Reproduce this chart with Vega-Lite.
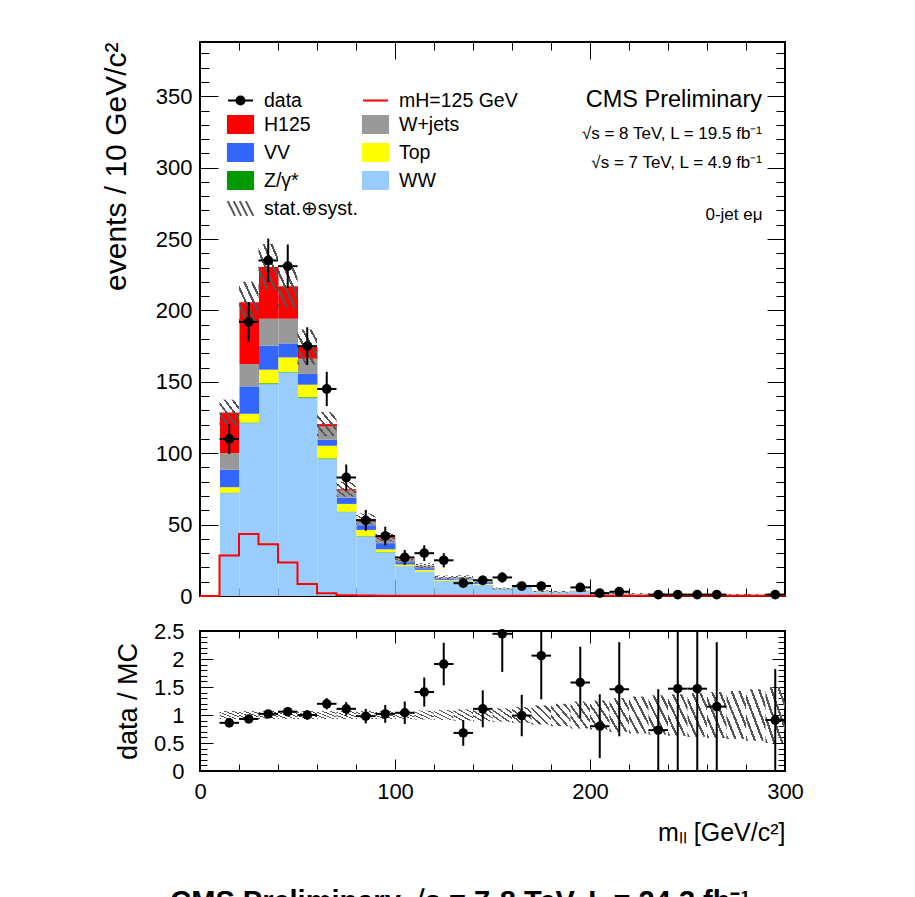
{
  "$schema": "https://vega.github.io/schema/vega-lite/v6.json",
  "padding": {"left": 100, "top": 40, "right": 5, "bottom": 5},
  "background": "white",
  "config": {
    "font": "Liberation Sans",
    "view": {"stroke": "black", "strokeWidth": 2},
    "axis": {"domain": false, "grid": false, "tickColor": "black", "tickWidth": 1, "labelColor": "black", "labelFontSize": 22, "labelFont": "Liberation Sans", "titleFont": "Liberation Sans", "titleFontWeight": "normal", "titleColor": "black", "labelFlush": false, "labelOverlap": false, "labelBound": false, "minExtent": 0}
  },
  "title": {"text": "CMS Preliminary   √s = 7-8 TeV, L = 24.3 fb⁻¹", "orient": "bottom", "anchor": "start", "dx": 70, "offset": 42, "fontSize": 29, "fontWeight": "bold", "font": "Liberation Sans", "color": "black"},
  "spacing": 11,
  "datasets": {
    "stack": [
      {"a":10,"b":20,"c":"WW","v":72.0,"o":1},{"a":10,"b":20,"c":"Z/γ*","v":0.4,"o":2},{"a":10,"b":20,"c":"Top","v":3.8,"o":3},{"a":10,"b":20,"c":"VV","v":12.2,"o":4},{"a":10,"b":20,"c":"W+jets","v":11.6,"o":5},{"a":10,"b":20,"c":"H125","v":28.5,"o":6},
      {"a":20,"b":30,"c":"WW","v":121.1,"o":1},{"a":20,"b":30,"c":"Z/γ*","v":0.4,"o":2},{"a":20,"b":30,"c":"Top","v":6.1,"o":3},{"a":20,"b":30,"c":"VV","v":19.2,"o":4},{"a":20,"b":30,"c":"W+jets","v":15.7,"o":5},{"a":20,"b":30,"c":"H125","v":43.2,"o":6},
      {"a":30,"b":40,"c":"WW","v":148.4,"o":1},{"a":30,"b":40,"c":"Z/γ*","v":0.6,"o":2},{"a":30,"b":40,"c":"Top","v":9.5,"o":3},{"a":30,"b":40,"c":"VV","v":16.8,"o":4},{"a":30,"b":40,"c":"W+jets","v":18.9,"o":5},{"a":30,"b":40,"c":"H125","v":36.3,"o":6},
      {"a":40,"b":50,"c":"WW","v":156.6,"o":1},{"a":40,"b":50,"c":"Z/γ*","v":0.5,"o":2},{"a":40,"b":50,"c":"Top","v":10.0,"o":3},{"a":40,"b":50,"c":"VV","v":9.8,"o":4},{"a":40,"b":50,"c":"W+jets","v":17.3,"o":5},{"a":40,"b":50,"c":"H125","v":22.7,"o":6},
      {"a":50,"b":60,"c":"WW","v":138.6,"o":1},{"a":50,"b":60,"c":"Z/γ*","v":0.6,"o":2},{"a":50,"b":60,"c":"Top","v":8.8,"o":3},{"a":50,"b":60,"c":"VV","v":7.5,"o":4},{"a":50,"b":60,"c":"W+jets","v":10.7,"o":5},{"a":50,"b":60,"c":"H125","v":8.2,"o":6},
      {"a":60,"b":70,"c":"WW","v":95.9,"o":1},{"a":60,"b":70,"c":"Z/γ*","v":0.5,"o":2},{"a":60,"b":70,"c":"Top","v":8.8,"o":3},{"a":60,"b":70,"c":"VV","v":4.2,"o":4},{"a":60,"b":70,"c":"W+jets","v":9.3,"o":5},{"a":60,"b":70,"c":"H125","v":1.7,"o":6},
      {"a":70,"b":80,"c":"WW","v":58.7,"o":1},{"a":70,"b":80,"c":"Z/γ*","v":0.4,"o":2},{"a":70,"b":80,"c":"Top","v":5.4,"o":3},{"a":70,"b":80,"c":"VV","v":4.4,"o":4},{"a":70,"b":80,"c":"W+jets","v":5.0,"o":5},{"a":70,"b":80,"c":"H125","v":0.9,"o":6},
      {"a":80,"b":90,"c":"WW","v":41.6,"o":1},{"a":80,"b":90,"c":"Z/γ*","v":0.3,"o":2},{"a":80,"b":90,"c":"Top","v":4.4,"o":3},{"a":80,"b":90,"c":"VV","v":3.3,"o":4},{"a":80,"b":90,"c":"W+jets","v":3.2,"o":5},{"a":80,"b":90,"c":"H125","v":1.2,"o":6},
      {"a":90,"b":100,"c":"WW","v":30.4,"o":1},{"a":90,"b":100,"c":"Z/γ*","v":0.3,"o":2},{"a":90,"b":100,"c":"Top","v":2.0,"o":3},{"a":90,"b":100,"c":"VV","v":4.3,"o":4},{"a":90,"b":100,"c":"W+jets","v":3.4,"o":5},{"a":90,"b":100,"c":"H125","v":0.8,"o":6},
      {"a":100,"b":110,"c":"WW","v":20.8,"o":1},{"a":100,"b":110,"c":"Z/γ*","v":0.1,"o":2},{"a":100,"b":110,"c":"Top","v":1.2,"o":3},{"a":100,"b":110,"c":"VV","v":1.6,"o":4},{"a":100,"b":110,"c":"W+jets","v":2.1,"o":5},{"a":100,"b":110,"c":"H125","v":0.2,"o":6},
      {"a":110,"b":120,"c":"WW","v":17.0,"o":1},{"a":110,"b":120,"c":"Z/γ*","v":0.1,"o":2},{"a":110,"b":120,"c":"Top","v":1.2,"o":3},{"a":110,"b":120,"c":"VV","v":1.2,"o":4},{"a":110,"b":120,"c":"W+jets","v":1.7,"o":5},{"a":110,"b":120,"c":"H125","v":0.1,"o":6},
      {"a":120,"b":130,"c":"WW","v":10.6,"o":1},{"a":120,"b":130,"c":"Z/γ*","v":0.1,"o":2},{"a":120,"b":130,"c":"Top","v":0.6,"o":3},{"a":120,"b":130,"c":"VV","v":0.7,"o":4},{"a":120,"b":130,"c":"W+jets","v":1.0,"o":5},{"a":120,"b":130,"c":"H125","v":0.1,"o":6},
      {"a":130,"b":140,"c":"WW","v":10.8,"o":1},{"a":130,"b":140,"c":"Z/γ*","v":0.1,"o":2},{"a":130,"b":140,"c":"Top","v":0.6,"o":3},{"a":130,"b":140,"c":"VV","v":0.7,"o":4},{"a":130,"b":140,"c":"W+jets","v":1.0,"o":5},
      {"a":140,"b":150,"c":"WW","v":8.0,"o":1},{"a":140,"b":150,"c":"Top","v":0.5,"o":3},{"a":140,"b":150,"c":"VV","v":0.6,"o":4},{"a":140,"b":150,"c":"W+jets","v":0.8,"o":5},
      {"a":150,"b":160,"c":"WW","v":4.3,"o":1},{"a":150,"b":160,"c":"Top","v":0.3,"o":3},{"a":150,"b":160,"c":"VV","v":0.3,"o":4},{"a":150,"b":160,"c":"W+jets","v":0.4,"o":5},
      {"a":160,"b":170,"c":"WW","v":5.7,"o":1},{"a":160,"b":170,"c":"Top","v":0.4,"o":3},{"a":160,"b":170,"c":"VV","v":0.4,"o":4},{"a":160,"b":170,"c":"W+jets","v":0.6,"o":5},
      {"a":170,"b":180,"c":"WW","v":2.7,"o":1},{"a":170,"b":180,"c":"Top","v":0.2,"o":3},{"a":170,"b":180,"c":"VV","v":0.2,"o":4},{"a":170,"b":180,"c":"W+jets","v":0.3,"o":5},
      {"a":180,"b":190,"c":"WW","v":2.4,"o":1},{"a":180,"b":190,"c":"Top","v":0.2,"o":3},{"a":180,"b":190,"c":"VV","v":0.2,"o":4},{"a":180,"b":190,"c":"W+jets","v":0.2,"o":5},
      {"a":190,"b":200,"c":"WW","v":3.1,"o":1},{"a":190,"b":200,"c":"Top","v":0.2,"o":3},{"a":190,"b":200,"c":"VV","v":0.2,"o":4},{"a":190,"b":200,"c":"W+jets","v":0.3,"o":5},
      {"a":200,"b":210,"c":"WW","v":2.0,"o":1},{"a":200,"b":210,"c":"Top","v":0.2,"o":3},{"a":200,"b":210,"c":"VV","v":0.1,"o":4},{"a":200,"b":210,"c":"W+jets","v":0.2,"o":5},
      {"a":210,"b":220,"c":"WW","v":1.6,"o":1},{"a":210,"b":220,"c":"Top","v":0.15,"o":3},{"a":210,"b":220,"c":"VV","v":0.15,"o":4},{"a":210,"b":220,"c":"W+jets","v":0.15,"o":5},
      {"a":220,"b":230,"c":"WW","v":1.3,"o":1},{"a":220,"b":230,"c":"Top","v":0.1,"o":3},{"a":220,"b":230,"c":"VV","v":0.1,"o":4},{"a":220,"b":230,"c":"W+jets","v":0.1,"o":5},
      {"a":230,"b":240,"c":"WW","v":1.1,"o":1},{"a":230,"b":240,"c":"Top","v":0.1,"o":3},{"a":230,"b":240,"c":"VV","v":0.07,"o":4},{"a":230,"b":240,"c":"W+jets","v":0.1,"o":5},
      {"a":240,"b":250,"c":"WW","v":0.55,"o":1},{"a":240,"b":250,"c":"Top","v":0.05,"o":3},{"a":240,"b":250,"c":"VV","v":0.03,"o":4},{"a":240,"b":250,"c":"W+jets","v":0.05,"o":5},
      {"a":250,"b":260,"c":"WW","v":0.55,"o":1},{"a":250,"b":260,"c":"Top","v":0.05,"o":3},{"a":250,"b":260,"c":"VV","v":0.03,"o":4},{"a":250,"b":260,"c":"W+jets","v":0.05,"o":5},
      {"a":260,"b":270,"c":"WW","v":0.7,"o":1},{"a":260,"b":270,"c":"Top","v":0.06,"o":3},{"a":260,"b":270,"c":"VV","v":0.05,"o":4},{"a":260,"b":270,"c":"W+jets","v":0.06,"o":5},
      {"a":270,"b":280,"c":"WW","v":0.72,"o":1},{"a":270,"b":280,"c":"Top","v":0.06,"o":3},{"a":270,"b":280,"c":"VV","v":0.06,"o":4},{"a":270,"b":280,"c":"W+jets","v":0.06,"o":5},
      {"a":280,"b":290,"c":"WW","v":0.72,"o":1},{"a":280,"b":290,"c":"Top","v":0.06,"o":3},{"a":280,"b":290,"c":"VV","v":0.06,"o":4},{"a":280,"b":290,"c":"W+jets","v":0.06,"o":5},
      {"a":290,"b":300,"c":"WW","v":0.9,"o":1},{"a":290,"b":300,"c":"Top","v":0.08,"o":3},{"a":290,"b":300,"c":"VV","v":0.05,"o":4},{"a":290,"b":300,"c":"W+jets","v":0.07,"o":5}
    ],
    "band": [
      {"a":10,"b":20,"lo":119.5,"hi":137.5,"rlo":0.93,"rhi":1.07},
      {"a":20,"b":30,"lo":191.3,"hi":220.1,"rlo":0.93,"rhi":1.07},
      {"a":30,"b":40,"lo":214.4,"hi":246.6,"rlo":0.93,"rhi":1.07},
      {"a":40,"b":50,"lo":201.7,"hi":232.1,"rlo":0.93,"rhi":1.07},
      {"a":50,"b":60,"lo":162.2,"hi":186.6,"rlo":0.93,"rhi":1.07},
      {"a":60,"b":70,"lo":112.0,"hi":128.8,"rlo":0.93,"rhi":1.07},
      {"a":70,"b":80,"lo":69.6,"hi":80.0,"rlo":0.93,"rhi":1.07},
      {"a":80,"b":90,"lo":50.2,"hi":57.8,"rlo":0.93,"rhi":1.07},
      {"a":90,"b":100,"lo":38.3,"hi":44.1,"rlo":0.93,"rhi":1.07},
      {"a":100,"b":110,"lo":24.2,"hi":27.8,"rlo":0.93,"rhi":1.07},
      {"a":110,"b":120,"lo":19.6,"hi":23.0,"rlo":0.92,"rhi":1.08},
      {"a":120,"b":130,"lo":11.9,"hi":14.3,"rlo":0.91,"rhi":1.09},
      {"a":130,"b":140,"lo":11.9,"hi":14.5,"rlo":0.9,"rhi":1.1},
      {"a":140,"b":150,"lo":8.8,"hi":11.0,"rlo":0.89,"rhi":1.11},
      {"a":150,"b":160,"lo":4.7,"hi":5.9,"rlo":0.88,"rhi":1.12},
      {"a":160,"b":170,"lo":6.1,"hi":8.1,"rlo":0.86,"rhi":1.14},
      {"a":170,"b":180,"lo":2.8,"hi":4.0,"rlo":0.83,"rhi":1.17},
      {"a":180,"b":190,"lo":2.4,"hi":3.6,"rlo":0.8,"rhi":1.2},
      {"a":190,"b":200,"lo":2.9,"hi":4.7,"rlo":0.76,"rhi":1.24},
      {"a":200,"b":210,"lo":1.85,"hi":3.15,"rlo":0.74,"rhi":1.26},
      {"a":210,"b":220,"lo":1.4,"hi":2.7,"rlo":0.7,"rhi":1.3},
      {"a":220,"b":230,"lo":1.1,"hi":2.1,"rlo":0.67,"rhi":1.33},
      {"a":230,"b":240,"lo":0.9,"hi":1.85,"rlo":0.65,"rhi":1.35},
      {"a":240,"b":250,"lo":0.43,"hi":0.93,"rlo":0.63,"rhi":1.37},
      {"a":250,"b":260,"lo":0.41,"hi":0.95,"rlo":0.61,"rhi":1.39},
      {"a":260,"b":270,"lo":0.51,"hi":1.23,"rlo":0.59,"rhi":1.41},
      {"a":270,"b":280,"lo":0.51,"hi":1.29,"rlo":0.57,"rhi":1.43},
      {"a":280,"b":290,"lo":0.49,"hi":1.31,"rlo":0.54,"rhi":1.46},
      {"a":290,"b":300,"lo":0.55,"hi":1.65,"rlo":0.5,"rhi":1.5}
    ],
    "sig": [
      {"e":0,"v":0},{"e":10,"v":28.3},{"e":20,"v":43.5},{"e":30,"v":36.2},{"e":40,"v":23.4},{"e":50,"v":8.4},{"e":60,"v":1.9},{"e":70,"v":0.5},{"e":80,"v":0.3},{"e":90,"v":0.2},{"e":100,"v":0.1},{"e":300,"v":0.1}
    ],
    "pts": [
      {"a":10,"b":20,"c":15,"n":110,"nlo":99.5,"nhi":120.5,"r":0.86,"rlo":0.78,"rhi":0.94},
      {"a":20,"b":30,"c":25,"n":192,"nlo":178.1,"nhi":205.9,"r":0.93,"rlo":0.86,"rhi":1.0},
      {"a":30,"b":40,"c":35,"n":235,"nlo":219.7,"nhi":250.3,"r":1.02,"rlo":0.95,"rhi":1.09},
      {"a":40,"b":50,"c":45,"n":231,"nlo":215.8,"nhi":246.2,"r":1.06,"rlo":0.99,"rhi":1.13},
      {"a":50,"b":60,"c":55,"n":175,"nlo":161.8,"nhi":188.2,"r":1.0,"rlo":0.92,"rhi":1.08},
      {"a":60,"b":70,"c":65,"n":145,"nlo":133.0,"nhi":157.0,"r":1.2,"rlo":1.1,"rhi":1.3},
      {"a":70,"b":80,"c":75,"n":83,"nlo":73.9,"nhi":92.1,"r":1.11,"rlo":0.99,"rhi":1.23},
      {"a":80,"b":90,"c":85,"n":53,"nlo":45.7,"nhi":60.3,"r":0.98,"rlo":0.85,"rhi":1.11},
      {"a":90,"b":100,"c":95,"n":42,"nlo":35.5,"nhi":48.5,"r":1.02,"rlo":0.86,"rhi":1.18},
      {"a":100,"b":110,"c":105,"n":27,"nlo":21.8,"nhi":32.2,"r":1.04,"rlo":0.84,"rhi":1.24},
      {"a":110,"b":120,"c":115,"n":30,"nlo":24.5,"nhi":35.5,"r":1.41,"rlo":1.15,"rhi":1.67},
      {"a":120,"b":130,"c":125,"n":25,"nlo":20,"nhi":30,"r":1.91,"rlo":1.53,"rhi":2.29},
      {"a":130,"b":140,"c":135,"n":9,"nlo":6,"nhi":12,"r":0.68,"rlo":0.45,"rhi":0.91},
      {"a":140,"b":150,"c":145,"n":11,"nlo":7.7,"nhi":14.3,"r":1.11,"rlo":0.78,"rhi":1.44},
      {"a":150,"b":160,"c":155,"n":13,"nlo":9.4,"nhi":16.6,"r":2.45,"rlo":1.77,"rhi":3.13},
      {"a":160,"b":170,"c":165,"n":7,"nlo":4.4,"nhi":9.6,"r":0.99,"rlo":0.62,"rhi":1.36},
      {"a":170,"b":180,"c":175,"n":7,"nlo":4.4,"nhi":9.6,"r":2.06,"rlo":1.28,"rhi":2.84},
      {"a":190,"b":200,"c":195,"n":6,"nlo":3.6,"nhi":8.4,"r":1.58,"rlo":0.94,"rhi":2.22},
      {"a":200,"b":210,"c":205,"n":2,"nlo":0.6,"nhi":3.4,"r":0.8,"rlo":0.23,"rhi":1.37},
      {"a":210,"b":220,"c":215,"n":3,"nlo":1.3,"nhi":4.7,"r":1.46,"rlo":0.62,"rhi":2.3},
      {"a":230,"b":240,"c":235,"n":1,"nlo":0,"nhi":2,"r":0.73,"rlo":0,"rhi":1.46},
      {"a":240,"b":250,"c":245,"n":1,"nlo":0,"nhi":2,"r":1.47,"rlo":0,"rhi":2.94},
      {"a":250,"b":260,"c":255,"n":1,"nlo":0,"nhi":2,"r":1.47,"rlo":0,"rhi":2.94},
      {"a":260,"b":270,"c":265,"n":1,"nlo":0,"nhi":2,"r":1.15,"rlo":0,"rhi":2.3},
      {"a":290,"b":300,"c":295,"n":1,"nlo":0,"nhi":2,"r":0.91,"rlo":0,"rhi":1.82}
    ]
  },
  "vconcat": [
    {
      "width": 585,
      "height": 554,
      "title": {"text": "CMS Preliminary", "subtitle": ["√s = 8 TeV, L = 19.5 fb⁻¹", "√s = 7 TeV, L = 4.9 fb⁻¹"], "anchor": "end", "orient": "top", "frame": "group", "offset": -129, "dx": -23, "fontSize": 23.5, "fontWeight": "normal", "color": "black", "font": "Liberation Sans", "subtitleFont": "Liberation Sans", "subtitleFontSize": 17, "subtitleColor": "black", "subtitleLineHeight": 29, "subtitlePadding": 14},
      "resolve": {"axis": {"x": "independent", "y": "independent"}},
      "layer": [
        {
          "data": {"name": "stack"},
          "mark": {"type": "bar", "opacity": 1, "strokeWidth": 0, "binSpacing": 0},
          "encoding": {
            "x": {"field": "a", "type": "quantitative", "bin": {"binned": true}, "scale": {"domain": [0, 300], "nice": false, "zero": false}, "axis": {"orient": "bottom", "values": [0, 100, 200, 300], "tickSize": -17, "labels": false, "title": null}},
            "x2": {"field": "b"},
            "y": {"field": "v", "type": "quantitative", "stack": "zero", "scale": {"domain": [0, 388], "nice": false, "zero": true}, "axis": {"orient": "left", "values": [0, 50, 100, 150, 200, 250, 300, 350], "tickSize": -18, "labelPadding": 26, "title": "events / 10 GeV/c²", "titleAnchor": "end", "titleFontSize": 30, "titlePadding": 24}},
            "fill": {"field": "c", "type": "nominal", "scale": {"domain": ["data", "H125", "VV", "Z/γ*", "stat.⊕syst.", "mH=125 GeV", "W+jets", "Top", "WW"], "range": ["#000000", "#ff0000", "#3366ff", "#009900", "rgba(0,0,0,0)", "#ff0000", "#999999", "#ffff00", "#99ccff"]}, "legend": {"orient": "none", "legendX": 26, "legendY": 44, "columns": 2, "title": null, "padding": 0, "symbolSize": 729, "symbolStrokeWidth": 2, "symbolOpacity": 1, "labelFont": "Liberation Sans", "labelFontSize": 19.5, "labelColor": "black", "labelOffset": 9, "rowPadding": 0, "columnPadding": 0}},
            "order": {"field": "o", "type": "quantitative"}
          }
        },
        {
          "data": {"name": "band"},
          "mark": {"type": "rect", "fill": {"gradient": "linear", "x1": 0, "y1": 1, "x2": 1, "y2": 0, "stops": [
            {"offset": 0, "color": "#555555"}, {"offset": 0.06, "color": "#555555"}, {"offset": 0.06, "color": "rgba(255,255,255,0)"}, {"offset": 0.2, "color": "rgba(255,255,255,0)"},
            {"offset": 0.2, "color": "#555555"}, {"offset": 0.26, "color": "#555555"}, {"offset": 0.26, "color": "rgba(255,255,255,0)"}, {"offset": 0.4, "color": "rgba(255,255,255,0)"},
            {"offset": 0.4, "color": "#555555"}, {"offset": 0.46, "color": "#555555"}, {"offset": 0.46, "color": "rgba(255,255,255,0)"}, {"offset": 0.6, "color": "rgba(255,255,255,0)"},
            {"offset": 0.6, "color": "#555555"}, {"offset": 0.66, "color": "#555555"}, {"offset": 0.66, "color": "rgba(255,255,255,0)"}, {"offset": 0.8, "color": "rgba(255,255,255,0)"},
            {"offset": 0.8, "color": "#555555"}, {"offset": 0.86, "color": "#555555"}, {"offset": 0.86, "color": "rgba(255,255,255,0)"}, {"offset": 1, "color": "rgba(255,255,255,0)"}
          ]}},
          "encoding": {
            "x": {"field": "a", "type": "quantitative", "scale": {"domain": [0, 300], "nice": false, "zero": false}, "axis": {"orient": "bottom", "values": [0,20,40,60,80,100,120,140,160,180,200,220,240,260,280,300], "tickSize": -8, "labels": false, "title": null}},
            "x2": {"field": "b"},
            "y": {"field": "lo", "type": "quantitative", "scale": {"domain": [0, 388], "nice": false}, "axis": {"orient": "left", "values": [0,10,20,30,40,50,60,70,80,90,100,110,120,130,140,150,160,170,180,190,200,210,220,230,240,250,260,270,280,290,300,310,320,330,340,350,360,370,380], "tickSize": -9, "labels": false, "title": null}},
            "y2": {"field": "hi"}
          }
        },
        {
          "data": {"name": "sig"},
          "mark": {"type": "line", "interpolate": "step-after", "color": "#ff0000", "strokeWidth": 2},
          "encoding": {
            "x": {"field": "e", "type": "quantitative", "scale": {"domain": [0, 300], "nice": false, "zero": false}, "axis": {"orient": "top", "values": [0, 100, 200, 300], "tickSize": -17, "labels": false, "title": "0-jet eμ", "titleFontSize": 17, "titleAnchor": "end", "titleAlign": "right", "titleBaseline": "alphabetic", "titleX": 562, "titleY": 177}},
            "y": {"field": "v", "type": "quantitative", "scale": {"domain": [0, 388], "nice": false}, "axis": {"orient": "right", "values": [0, 50, 100, 150, 200, 250, 300, 350], "tickSize": -18, "labels": false, "title": null}}
          }
        },
        {
          "data": {"name": "pts"},
          "mark": {"type": "rule", "color": "black", "strokeWidth": 2},
          "encoding": {
            "x": {"field": "c", "type": "quantitative", "scale": {"domain": [0, 300], "nice": false, "zero": false}, "axis": {"orient": "top", "values": [0,20,40,60,80,100,120,140,160,180,200,220,240,260,280,300], "tickSize": -8, "labels": false, "title": null}},
            "y": {"field": "nlo", "type": "quantitative", "scale": {"domain": [0, 388], "nice": false}, "axis": {"orient": "right", "values": [0,10,20,30,40,50,60,70,80,90,100,110,120,130,140,150,160,170,180,190,200,210,220,230,240,250,260,270,280,290,300,310,320,330,340,350,360,370,380], "tickSize": -9, "labels": false, "title": null}},
            "y2": {"field": "nhi"}
          }
        },
        {
          "data": {"name": "pts"},
          "mark": {"type": "rule", "color": "black", "strokeWidth": 2},
          "encoding": {
            "x": {"field": "a", "type": "quantitative", "scale": {"domain": [0, 300], "nice": false, "zero": false}, "axis": null},
            "x2": {"field": "b"},
            "y": {"field": "n", "type": "quantitative", "scale": {"domain": [0, 388], "nice": false}, "axis": null}
          }
        },
        {
          "data": {"name": "pts"},
          "mark": {"type": "point", "filled": true, "color": "black", "size": 95, "opacity": 1},
          "encoding": {
            "x": {"field": "c", "type": "quantitative", "scale": {"domain": [0, 300], "nice": false, "zero": false}, "axis": null},
            "y": {"field": "n", "type": "quantitative", "scale": {"domain": [0, 388], "nice": false}, "axis": null}
          }
        },
        {
          "data": {"name": "stack"},
          "transform": [{"filter": "datum.v < -1000"}],
          "mark": {"type": "point", "filled": true, "opacity": 1},
          "encoding": {
            "x": {"field": "a", "type": "quantitative", "scale": {"domain": [0, 300], "nice": false, "zero": false}, "axis": null},
            "y": {"field": "v", "type": "quantitative", "scale": {"domain": [0, 388], "nice": false}, "axis": null},
            "fill": {"field": "c", "type": "nominal"},
            "stroke": {"field": "c", "type": "nominal", "scale": {"domain": ["data", "H125", "VV", "Z/γ*", "stat.⊕syst.", "mH=125 GeV", "W+jets", "Top", "WW"], "range": ["#000000", "#ff0000", "#3366ff", "#009900", "#555555", "#ff0000", "#999999", "#ffff00", "#99ccff"]}},
            "shape": {"field": "c", "type": "nominal", "scale": {"domain": ["data", "H125", "VV", "Z/γ*", "stat.⊕syst.", "mH=125 GeV", "W+jets", "Top", "WW"], "range": [
              "M-0.93,0H0.93M-0.3,0A0.3,0.3,0,1,0,0.3,0A0.3,0.3,0,1,0,-0.3,0Z",
              "M-0.93,-0.63H0.93V0.63H-0.93Z",
              "M-0.93,-0.63H0.93V0.63H-0.93Z",
              "M-0.93,-0.63H0.93V0.63H-0.93Z",
              "M-0.95,-0.55L-0.4,0.55M-0.5,-0.55L0.05,0.55M-0.05,-0.55L0.5,0.55M0.4,-0.55L0.95,0.55",
              "M-0.93,0H0.93",
              "M-0.93,-0.63H0.93V0.63H-0.93Z",
              "M-0.93,-0.63H0.93V0.63H-0.93Z",
              "M-0.93,-0.63H0.93V0.63H-0.93Z"
            ]}}
          }
        }
      ]
    },
    {
      "width": 585,
      "height": 140,
      "resolve": {"axis": {"x": "independent", "y": "independent"}},
      "layer": [
        {
          "data": {"name": "band"},
          "mark": {"type": "rect", "fill": {"gradient": "linear", "x1": 0, "y1": 1, "x2": 1, "y2": 0, "stops": [
            {"offset": 0, "color": "#555555"}, {"offset": 0.06, "color": "#555555"}, {"offset": 0.06, "color": "rgba(255,255,255,0)"}, {"offset": 0.2, "color": "rgba(255,255,255,0)"},
            {"offset": 0.2, "color": "#555555"}, {"offset": 0.26, "color": "#555555"}, {"offset": 0.26, "color": "rgba(255,255,255,0)"}, {"offset": 0.4, "color": "rgba(255,255,255,0)"},
            {"offset": 0.4, "color": "#555555"}, {"offset": 0.46, "color": "#555555"}, {"offset": 0.46, "color": "rgba(255,255,255,0)"}, {"offset": 0.6, "color": "rgba(255,255,255,0)"},
            {"offset": 0.6, "color": "#555555"}, {"offset": 0.66, "color": "#555555"}, {"offset": 0.66, "color": "rgba(255,255,255,0)"}, {"offset": 0.8, "color": "rgba(255,255,255,0)"},
            {"offset": 0.8, "color": "#555555"}, {"offset": 0.86, "color": "#555555"}, {"offset": 0.86, "color": "rgba(255,255,255,0)"}, {"offset": 1, "color": "rgba(255,255,255,0)"}
          ]}},
          "encoding": {
            "x": {"field": "a", "type": "quantitative", "scale": {"domain": [0, 300], "nice": false, "zero": false}, "axis": {"orient": "bottom", "values": [0, 100, 200, 300], "tickSize": -12, "labelPadding": 22, "title": "mₗₗ [GeV/c²]", "titleAnchor": "end", "titleFontSize": 25, "titlePadding": 18}},
            "x2": {"field": "b"},
            "y": {"field": "rlo", "type": "quantitative", "scale": {"domain": [0, 2.5], "nice": false}, "axis": {"orient": "left", "values": [0, 0.5, 1, 1.5, 2, 2.5], "format": "~g", "tickSize": -13, "labelPadding": 29, "title": "data / MC", "titleFontSize": 27, "titlePadding": 11}},
            "y2": {"field": "rhi"}
          }
        },
        {
          "data": {"name": "pts"},
          "mark": {"type": "rule", "color": "black", "strokeWidth": 2, "clip": true},
          "encoding": {
            "x": {"field": "c", "type": "quantitative", "scale": {"domain": [0, 300], "nice": false, "zero": false}, "axis": {"orient": "bottom", "values": [0,20,40,60,80,100,120,140,160,180,200,220,240,260,280,300], "tickSize": -7, "labels": false, "title": null}},
            "y": {"field": "rlo", "type": "quantitative", "scale": {"domain": [0, 2.5], "nice": false}, "axis": {"orient": "left", "values": [0,0.1,0.2,0.3,0.4,0.5,0.6,0.7,0.8,0.9,1,1.1,1.2,1.3,1.4,1.5,1.6,1.7,1.8,1.9,2,2.1,2.2,2.3,2.4,2.5], "tickSize": -7, "labels": false, "title": null}},
            "y2": {"field": "rhi"}
          }
        },
        {
          "data": {"name": "pts"},
          "mark": {"type": "rule", "color": "black", "strokeWidth": 2, "clip": true},
          "encoding": {
            "x": {"field": "a", "type": "quantitative", "scale": {"domain": [0, 300], "nice": false, "zero": false}, "axis": {"orient": "top", "values": [0, 100, 200, 300], "tickSize": -12, "labels": false, "title": null}},
            "x2": {"field": "b"},
            "y": {"field": "r", "type": "quantitative", "scale": {"domain": [0, 2.5], "nice": false}, "axis": {"orient": "right", "values": [0, 0.5, 1, 1.5, 2, 2.5], "tickSize": -13, "labels": false, "title": null}}
          }
        },
        {
          "data": {"name": "pts"},
          "mark": {"type": "point", "filled": true, "color": "black", "size": 90, "opacity": 1},
          "encoding": {
            "x": {"field": "c", "type": "quantitative", "scale": {"domain": [0, 300], "nice": false, "zero": false}, "axis": {"orient": "top", "values": [0,20,40,60,80,100,120,140,160,180,200,220,240,260,280,300], "tickSize": -7, "labels": false, "title": null}},
            "y": {"field": "r", "type": "quantitative", "scale": {"domain": [0, 2.5], "nice": false}, "axis": {"orient": "right", "values": [0,0.1,0.2,0.3,0.4,0.5,0.6,0.7,0.8,0.9,1,1.1,1.2,1.3,1.4,1.5,1.6,1.7,1.8,1.9,2,2.1,2.2,2.3,2.4,2.5], "tickSize": -7, "labels": false, "title": null}}
          }
        }
      ]
    }
  ]
}
